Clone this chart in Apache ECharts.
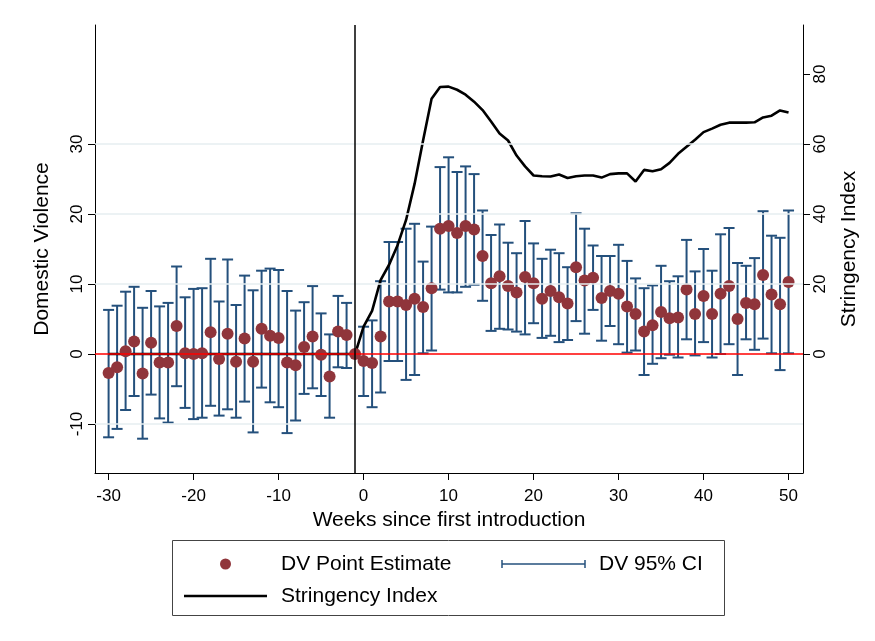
<!DOCTYPE html>
<html><head><meta charset="utf-8">
<script src="https://cdn.jsdelivr.net/npm/echarts@6/dist/echarts.min.js"></script>
<style>html,body{margin:0;padding:0;background:#fff}#c{width:875px;height:641px}</style>
</head><body><div id="c"></div>
<script>
// Weeks since first introduction
const weeks = [-30,-29,-28,-27,-26,-25,-24,-23,-22,-21,-20,-19,-18,-17,-16,-15,-14,-13,-12,-11,
  -10,-9,-8,-7,-6,-5,-4,-3,-2,-1,0,1,2,3,4,5,6,7,8,9,10,11,12,13,14,15,16,17,18,19,20,
  21,22,23,24,25,26,27,28,29,30,31,32,33,34,35,36,37,38,39,40,41,42,43,44,45,46,47,48,49,50];
// DV point estimate
const dvEstimate = [-2.7,-1.9,0.4,1.8,-2.8,1.6,-1.2,-1.2,4.0,0.1,0.0,0.1,3.1,-0.7,2.9,-1.1,2.2,-1.1,3.6,2.6,
  2.3,-1.2,-1.6,1.0,2.5,-0.1,-3.2,3.2,2.7,0,-1.0,-1.3,2.5,7.5,7.5,7.0,7.9,6.7,9.4,17.9,18.3,
  17.3,18.3,17.8,14.0,10.1,11.1,9.7,8.8,11.0,10.1,7.9,9.0,8.1,7.2,12.4,10.5,10.9,8.0,9.0,8.6,
  6.8,5.7,3.2,4.1,6.0,5.1,5.2,9.2,5.7,8.3,5.7,8.6,9.7,5.0,7.3,7.1,11.3,8.5,7.1,10.3];
// DV 95% CI lower bound (week -1 is the reference week: no CI)
const dvLower = [-11.9,-10.7,-8.0,-6.0,-12.1,-5.8,-9.2,-9.8,-4.6,-7.7,-9.3,-9.1,-7.4,-8.8,-7.9,-9.1,-6.8,-11.2,-4.8,-6.9,
  -7.6,-11.3,-9.5,-5.7,-4.9,-6.0,-9.1,-1.9,-2.0,null,-6.0,-7.6,-5.5,-1.0,-1.0,-3.7,-3.0,0.1,0.5,9.2,8.8,
  8.8,9.6,9.9,7.6,3.3,3.6,3.5,3.2,2.8,4.4,2.3,2.6,1.7,2.0,4.7,2.9,6.3,1.9,4.0,1.4,
  0.2,0.5,-3.0,-1.4,-0.6,-0.1,-0.5,2.1,-0.2,1.7,-0.5,0.0,1.4,-3.0,2.1,0.6,2.2,0.1,-2.3,0.1];
// DV 95% CI upper bound
const dvUpper = [6.3,6.9,8.9,9.6,6.6,9.0,6.8,7.3,12.5,8.1,9.3,9.4,13.6,7.5,13.5,7.0,11.2,9.1,11.9,12.2,
  12.0,9.0,6.2,7.4,9.7,5.8,2.8,8.3,7.3,null,3.9,4.8,10.4,16.0,16.0,17.9,18.6,13.2,18.2,26.7,28.1,
  26.0,26.8,25.7,20.5,17.0,18.5,15.9,14.4,19.0,15.8,13.6,14.9,14.4,12.4,20.1,17.9,15.5,14.0,14.0,15.6,
  13.3,10.8,9.4,9.8,12.6,10.4,11.1,16.3,11.8,15.0,11.9,17.1,18.0,13.0,12.6,13.7,20.4,16.9,16.6,20.5];
// Stringency Index (right axis)
const stringency = [0,0,0,0,0,0,0,0,0,0,0,0,0,0,0,0,0,0,0,0,
  0,0,0,0,0,0,0,0,0,0,7.8,12.3,21.1,25.5,31.1,38.3,48.6,61.0,72.9,76.3,76.4,
  75.5,74.1,72.1,69.7,66.4,63.0,61.0,56.7,53.6,51.0,50.8,50.7,51.3,50.3,50.8,51.0,51.0,50.4,51.4,51.6,
  51.6,49.3,52.6,52.2,52.8,54.6,57.2,59.2,61.2,63.4,64.4,65.5,66.1,66.1,66.1,66.2,67.6,68.1,69.6,69.0];
// Tick labels
const xTicks = [-30,-20,-10,0,10,20,30,40,50];
const yLeftTicks = [-10,0,10,20,30];
const yRightTicks = [0,20,40,60,80];
const gridValues = [-10,10,20,30];
const zeroLine = 0;
const introWeek = -1;

const FONT = '"Liberation Sans", Arial, Helvetica, sans-serif';
const ciColor = '#24507c';
const ptColor = '#90353b';

const scatterData = weeks.map((w, i) => [w, dvEstimate[i]]);
const ciData = [];
weeks.forEach((w, i) => { if (dvLower[i] !== null) ciData.push([w, dvLower[i], dvUpper[i]]); });
const lineData = weeks.map((w, i) => [w, stringency[i]]);

const chart = echarts.init(document.getElementById('c'), null, {renderer: 'canvas'});
const option = {
  backgroundColor: '#fff',
  animation: false,
  textStyle: {fontFamily: FONT},
  grid: {left: 95, right: 72, top: 25, bottom: 168, containLabel: false},
  xAxis: {
    type: 'value', min: -31.6, max: 51.7,
    name: 'Weeks since first introduction', nameLocation: 'middle', nameGap: 37,
    nameTextStyle: {fontSize: 21, color: '#000', fontFamily: FONT},
    axisLine: {show: true, onZero: false, lineStyle: {color: '#000', width: 1}},
    axisTick: {show: true, length: 7, customValues: xTicks, lineStyle: {color: '#000'}},
    axisLabel: {customValues: xTicks, fontSize: 17, color: '#000', margin: 15, fontFamily: FONT},
    splitLine: {show: false}
  },
  yAxis: [{
    type: 'value', min: -17, max: 47, position: 'left',
    name: 'Domestic Violence', nameLocation: 'middle', nameGap: 42, nameRotate: 90,
    nameTextStyle: {fontSize: 21, color: '#000', fontFamily: FONT},
    axisLine: {show: true, onZero: false, lineStyle: {color: '#000', width: 1}},
    axisTick: {show: true, length: 7, customValues: yLeftTicks, lineStyle: {color: '#000'}},
    axisLabel: {customValues: yLeftTicks, rotate: 90, fontSize: 17, color: '#000', margin: 9, fontFamily: FONT},
    splitLine: {show: false}
  }, {
    type: 'value', min: -34, max: 94, position: 'right',
    name: 'Stringency Index', nameLocation: 'middle', nameGap: 36, nameRotate: 90,
    nameTextStyle: {fontSize: 21, color: '#000', fontFamily: FONT},
    axisLine: {show: true, onZero: false, lineStyle: {color: '#000', width: 1}},
    axisTick: {show: true, length: 7, customValues: yRightTicks, lineStyle: {color: '#000'}},
    axisLabel: {customValues: yRightTicks, rotate: 90, fontSize: 17, color: '#000', margin: 9, fontFamily: FONT},
    splitLine: {show: false}
  }],
  series: [{
    name: 'refs', type: 'line', data: [], z: 1, silent: true,
    markLine: {
      silent: true, symbol: ['none', 'none'], label: {show: false}, animation: false,
      data: gridValues.map(v => ({yAxis: v, lineStyle: {color: '#e6eef1', width: 1.5, type: 'solid'}}))
        .concat([{yAxis: zeroLine, lineStyle: {color: '#ff0000', width: 1.5, type: 'solid'}}])
        .concat([{xAxis: introWeek, lineStyle: {color: '#000', width: 1.5, type: 'solid'}}])
    }
  }, {
    name: 'DV 95% CI', type: 'custom', z: 2, data: ciData,
    encode: {x: 0, y: [1, 2]},
    renderItem: function (params, api) {
      const w = api.value(0), lo = api.value(1), hi = api.value(2);
      const p1 = api.coord([w, lo]), p2 = api.coord([w, hi]);
      const cap = 5.5;
      const st = {stroke: ciColor, lineWidth: 2, fill: null};
      return {type: 'group', children: [
        {type: 'line', shape: {x1: p1[0], y1: p1[1], x2: p2[0], y2: p2[1]}, style: st},
        {type: 'line', shape: {x1: p1[0] - cap, y1: p1[1], x2: p1[0] + cap, y2: p1[1]}, style: st},
        {type: 'line', shape: {x1: p2[0] - cap, y1: p2[1], x2: p2[0] + cap, y2: p2[1]}, style: st}
      ]};
    }
  }, {
    name: 'Stringency Index', type: 'line', yAxisIndex: 1, data: lineData, z: 3,
    symbol: 'none', lineStyle: {color: '#000', width: 2.6}, itemStyle: {color: '#000'}
  }, {
    name: 'DV Point Estimate', type: 'scatter', data: scatterData, z: 4,
    symbol: 'circle', symbolSize: 12, itemStyle: {color: ptColor, opacity: 1}
  }],
  graphic: [
    {type: 'rect', shape: {x: 172.5, y: 540.5, width: 552, height: 75}, style: {fill: '#fff', stroke: '#444', lineWidth: 1}},
    {type: 'circle', shape: {cx: 225.5, cy: 564, r: 5.5}, style: {fill: ptColor}},
    {type: 'text', x: 281, y: 564, style: {text: 'DV Point Estimate', font: '21px ' + FONT, fill: '#000', verticalAlign: 'middle'}},
    {type: 'line', shape: {x1: 502, y1: 564, x2: 585, y2: 564}, style: {stroke: ciColor, lineWidth: 1.5}},
    {type: 'line', shape: {x1: 502, y1: 560, x2: 502, y2: 568}, style: {stroke: ciColor, lineWidth: 1.5}},
    {type: 'line', shape: {x1: 585, y1: 560, x2: 585, y2: 568}, style: {stroke: ciColor, lineWidth: 1.5}},
    {type: 'text', x: 599, y: 564, style: {text: 'DV 95% CI', font: '21px ' + FONT, fill: '#000', verticalAlign: 'middle'}},
    {type: 'line', shape: {x1: 184, y1: 596, x2: 267, y2: 596}, style: {stroke: '#000', lineWidth: 2.6}},
    {type: 'text', x: 281, y: 596, style: {text: 'Stringency Index', font: '21px ' + FONT, fill: '#000', verticalAlign: 'middle'}}
  ]
};
chart.setOption(option);
</script>
</body></html>
